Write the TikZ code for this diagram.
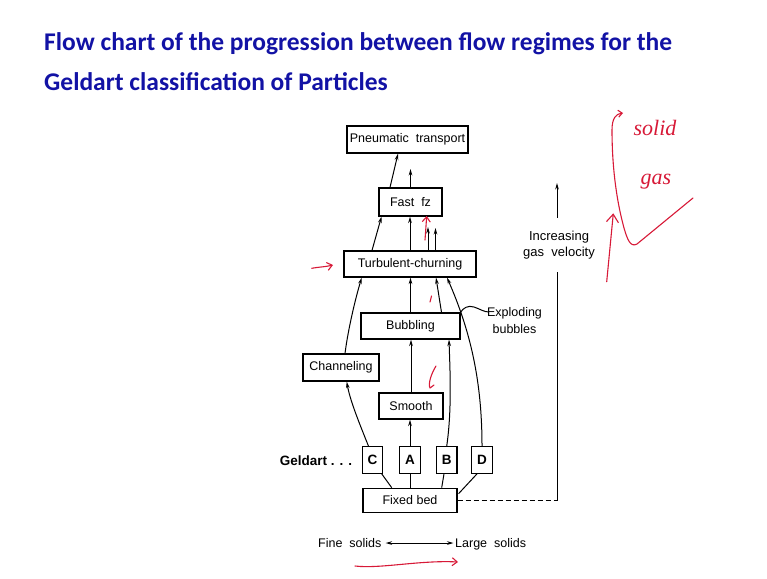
\documentclass[tikz,border=0pt]{standalone}
\usepackage{fontspec}
\setmainfont{Liberation Sans}
\newfontfamily\titlefont{Carlito}
\newfontfamily\handfont{Liberation Serif}
\usetikzlibrary{arrows.meta, positioning, calc}
\definecolor{titleblue}{RGB}{18,18,165}
\definecolor{penred}{RGB}{215,25,55}

\begin{document}
\begin{tikzpicture}[
    x=1pt, y=-1pt,
    >={Stealth[length=6.5pt,width=3.6pt]},
    arr/.style={->, line width=1pt},
    link/.style={line width=1pt},
    box/.style={draw, line width=1.2pt, minimum height=26pt, inner sep=0pt, font=\fontsize{12.5}{14}\selectfont},
    grp/.style={box, minimum width=20.5pt, minimum height=26.5pt, font=\fontsize{13.5}{15}\selectfont\bfseries},
    lbl/.style={font=\fontsize{12.5}{14}\selectfont, inner sep=0pt},
    ttl/.style={anchor=base west, inner sep=0pt, text=titleblue, font=\titlefont\bfseries\fontsize{25.5}{30}\selectfont},
    pen/.style={draw=penred, line width=1.1pt, line cap=round, line join=round},
    penarr/.style={pen, -{Straight Barb[length=5pt,width=8pt]}},
    note/.style={text=penred, inner sep=0pt, font=\handfont\itshape\fontsize{22}{24}\selectfont},
]
\useasboundingbox (0,0) rectangle (767,578);
% === Heading ===
\node[ttl] (title1) at (44,50) {Flow chart of the progression between flow regimes for the};
\node[ttl] (title2) at (44,90.7) {Geldart classification of Particles};
% === Regimes ===
\node[box, minimum width=121pt, minimum height=27pt] (pneu) at (407.5,139.5) {Pneumatic\ \ transport};
\node[box, minimum width=63pt, minimum height=28pt] (fast) at (410.5,202) {Fast\ \ fz};
\node[box, minimum width=132pt] (turb) at (410,264) {Turbulent-churning};
\node[box, minimum width=99pt] (bubb) at (410.5,326) {Bubbling};
\node[box, minimum width=76pt, minimum height=27pt] (chan) at (341,367.5) {Channeling};
\node[box, minimum width=64pt] (smooth) at (411,406) {Smooth};
% === Geldart groups ===
\node[grp] (gc) at (372.5,460) {C};
\node[grp] (ga) at (410,460) {A};
\node[grp] (gb) at (446.7,460) {B};
\node[grp] (gd) at (482,460) {D};
\node[box, minimum width=94pt, minimum height=24.5pt] (fixed) at (410,500.5) {Fixed bed};
\node[lbl, font=\fontsize{13.5}{15}\selectfont\bfseries] (geldart) at (316,460.7) {Geldart . . .};
% === Upward paths ===
\coordinate (fastup) at (410.5,169);
\coordinate (turbup1) at (428,227);
\coordinate (turbup2) at (435.5,228);
\draw[arr] ([xshift=-20.5pt]fast.north) -- ([xshift=-9.5pt]pneu.south);
\draw[arr] (fast.north) -- (fastup);
\draw[arr] ([xshift=-38pt]turb.north) -- ([xshift=-29pt]fast.south);
\draw[arr] (turb.north) -- (turb.north |- fast.south);
\draw[arr] ([xshift=18pt]turb.north) -- (turbup1);
\draw[arr] ([xshift=25.5pt]turb.north) -- (turbup2);
\draw[arr] (bubb.north) -- (bubb.north |- turb.south);
\draw[arr] ([xshift=31pt]bubb.north) -- ([xshift=26pt]turb.south);
\draw[arr] (gd.north) .. controls (482,380) and (470,330) .. ([xshift=37pt]turb.south);
\draw[arr] (gb.north) .. controls (452,410) and (450,370) .. ([xshift=38.5pt]bubb.south);
\draw[arr] (ga.north) -- (ga.north |- smooth.south);
\draw[arr] (smooth.north) -- (smooth.north |- bubb.south);
\draw[arr] ([xshift=-4pt]gc.north) .. controls (358,420) and (350,400) .. ([xshift=5.7pt]chan.south);
\draw[arr] ([xshift=4pt]chan.north) .. controls (348,330) and (355,300) .. ([xshift=-48.3pt]turb.south);
% fixed bed feeds the four groups
\draw[link] ([xshift=-18.3pt]fixed.north) -- ([xshift=9.2pt]gc.south);
\draw[link] (fixed.north) -- (ga.south);
\draw[link] ([xshift=31.7pt]fixed.north) -- ([xshift=-2.7pt]gb.south);
\draw[link] ($(fixed.north east)+(1,6)$) -- ([xshift=-5pt]gd.south);
% === Exploding bubbles ===
\node[lbl, align=center, font=\fontsize{12.5}{17.6}\selectfont] (expl) at (514.5,320.5) {Exploding\\bubbles};
\coordinate (swend) at (489,312);
\draw[link] (bubb.north east) .. controls (463,308) and (468,305) .. (474,307) .. controls (480,309) and (484,312) .. (swend);
% === Gas velocity axis ===
\node[lbl, align=center, font=\fontsize{13}{16}\selectfont, inner ysep=13pt] (incr) at (559,245) {Increasing\\gas\ \ velocity};
\coordinate (vbase) at (557,500.5);
\coordinate (vtop) at (557,183);
\draw[link, dash pattern=on 5pt off 3pt] (fixed.east) -- (vbase);
\draw[link] (vbase) -- (vbase |- incr.south);
\draw[arr] (vbase |- incr.north) -- (vtop);
% === Particle size ===
\node[lbl, anchor=base west] (fine) at (318,547.5) {Fine\ \ solids};
\node[lbl, anchor=base west] (large) at (455,547.5) {Large\ \ solids};
\draw[<->, link, shorten <=4pt, shorten >=1.5pt] (fine.east) -- (fine.east -| large.west);
% === Pen marks ===
\draw[penarr] (311.7,268.3) .. controls (318,267) and (325,267) .. (333,265);
\draw[penarr] (425,240) -- (426.7,216);
\draw[pen] (431.5,296) -- (430,302);
\draw[pen] (436,366) .. controls (431,374) and (428,384) .. (430,388) -- (434,385);
\draw[penarr] (355,566) .. controls (380,569) and (420,560) .. (458,562);
\draw[pen, -{Straight Barb[length=8pt,width=12pt]}] (606.7,281.7) -- (613.3,213.3);
\draw[pen, -{Straight Barb[length=4pt,width=7pt]}] (693,198) -- (637,244) .. controls (630,248) and (627,238) .. (624,228) .. controls (615,195) and (612,160) .. (612,130) .. controls (612,118) and (616,114) .. (623,113);
\node[note] (solidnote) at (655,128) {solid};
\node[note] (gasnote) at (656,182) {gas};
\end{tikzpicture}
\end{document}
